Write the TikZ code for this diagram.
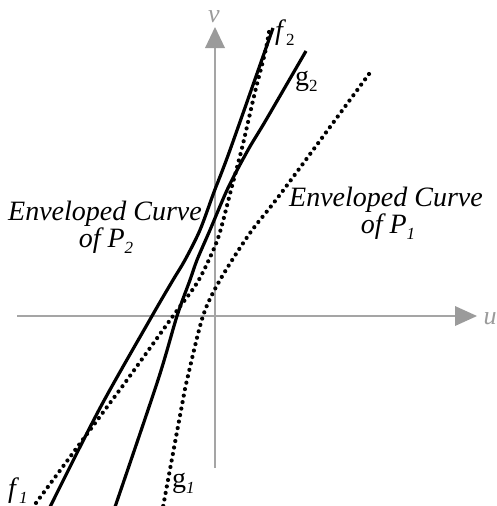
\documentclass[tikz,border=0pt]{standalone}
\usepackage{fontspec}
\setmainfont{Liberation Serif}
\definecolor{axgray}{RGB}{165,165,165}
\definecolor{tipgray}{RGB}{155,155,155}
\newcommand\sublab[2]{#1\raisebox{-0.22em}{\fontsize{17}{17}\selectfont #2}}
\begin{document}
\begin{tikzpicture}[x=1pt,y=-1pt,
  axisline/.style={draw=axgray, line width=1.8pt},
  axistip/.style={fill=tipgray, draw=none},
  solidcurve/.style={line width=3.2pt, black},
  dotcurve/.style={line width=4.2pt, black, line cap=round, dash pattern=on 0pt off 6.6pt},
  biglabel/.style={font=\fontsize{28}{28}\selectfont\itshape, anchor=base, inner sep=0pt},
  curvelabel/.style={font=\fontsize{28}{28}\selectfont, anchor=base west, inner sep=0pt},
  axislabel/.style={font=\fontsize{26}{26}\selectfont\itshape, text=tipgray, anchor=base, inner sep=0pt}]
\useasboundingbox (0,0) rectangle (496,506);
\clip (0,0) rectangle (496,506);
% axes
\draw[axisline] (17,316) -- (457,316);
\draw[axisline] (215,468) -- (215,46);
\fill[axistip] (477,316) -- (455,306) -- (455,326) -- cycle;
\fill[axistip] (215,27) -- (205,48) -- (225,48) -- cycle;
\node[axislabel] (u) at (490,324) {u};
\node[axislabel] (v) at (214,22) {v};
% solid curves
\draw[solidcurve] plot[smooth, tension=0.5] coordinates {(50,507) (100,408) (152,316) (173,280) (185,260) (200,230) (214,192) (230,150) (273,28)};
\draw[solidcurve] plot[smooth, tension=0.5] coordinates {(115,507) (158,380) (177,316) (190,280) (197,260) (210,230) (228,188) (248,150) (266,120) (306,51)};
% dotted curves
\draw[dotcurve] plot[smooth, tension=0.5] coordinates {(269,32) (265,53) (255,92) (242,148) (231,190) (220,232) (212,253) (197,283) (173,316) (127,380) (107,407) (33,507)};
\draw[dotcurve] plot[smooth, tension=0.5] coordinates {(369,74) (282,192) (250,233) (220,280) (203,316) (187,380) (182,405) (163,507)};
% labels
\node[biglabel] (lt1) at (105,220) {Enveloped Curve};
\node[biglabel] (lt2) at (106,247) {of \sublab{P}{2}};
\node[biglabel] (rt1) at (386,206) {Enveloped Curve};
\node[biglabel] (rt2) at (388,233) {of \sublab{P}{1}};
\node[curvelabel] (f2) at (275,39) {\sublab{\textit{f}}{2}};
\node[curvelabel] (g2) at (295,85) {\sublab{g}{2}};
\node[curvelabel] (f1) at (8,497) {\sublab{\textit{f}}{\textit{1}}};
\node[curvelabel] (g1) at (172,487) {\sublab{g}{\textit{1}}};
\end{tikzpicture}
\end{document}
